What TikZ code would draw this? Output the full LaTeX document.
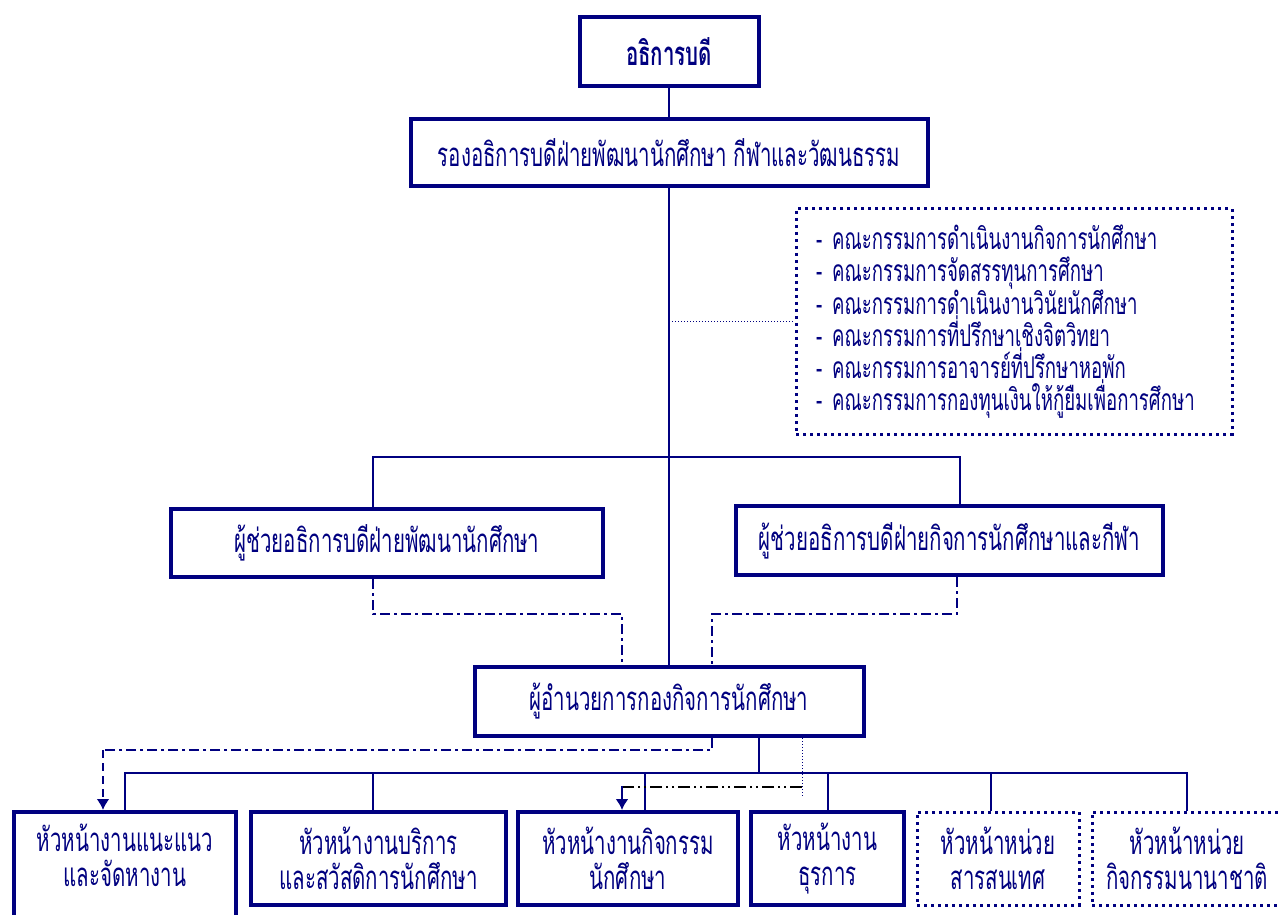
\documentclass[tikz,border=0pt]{standalone}
\usepackage{fontspec}
\newfontfamily\thaifont[Script=Thai,FakeStretch=0.62]{Loma}
\usetikzlibrary{arrows.meta}
\definecolor{navy}{RGB}{0,0,128}

\tikzset{
  box/.style={draw=navy,line width=4pt,fill=white,text=navy,align=center,inner sep=0pt,
    font=\thaifont\fontsize{33}{35}\selectfont},
  dotbox/.style={box,line width=3pt,dash pattern=on 3pt off 4pt},
  link/.style={navy,line width=2pt},
  dashdot/.style={navy,line width=2.5pt,dash pattern=on 10pt off 4pt on 3pt off 4pt},
  dashdotdot/.style={black,line width=1.5pt,dash pattern=on 12pt off 4pt on 2pt off 4pt on 2pt off 4pt},
}

\begin{document}
\begin{tikzpicture}[x=1pt,y=-1pt]
\useasboundingbox (0,0) rectangle (1278,915);

\node[box,minimum width=179pt,minimum height=69pt,font=\thaifont\bfseries\fontsize{33}{35}\selectfont] (rector) at (669,51.5) {อธิการบดี};
\node[box,minimum width=517pt,minimum height=67pt] (vice) at (669,152.5) {รองอธิการบดีฝ่ายพัฒนานักศึกษา กีฬาและวัฒนธรรม};
\node[dotbox,minimum width=436pt,minimum height=225pt,align=left,text width=396pt,
  font=\thaifont\fontsize{30}{32}\selectfont] (comm) at (1014,321.5) {- คณะกรรมการดำเนินงานกิจการนักศึกษา\\- คณะกรรมการจัดสรรทุนการศึกษา\\- คณะกรรมการดำเนินงานวินัยนักศึกษา\\- คณะกรรมการที่ปรึกษาเชิงจิตวิทยา\\- คณะกรรมการอาจารย์ที่ปรึกษาหอพัก\\- คณะกรรมการกองทุนเงินให้กู้ยืมเพื่อการศึกษา};
\node[box,minimum width=432pt,minimum height=68pt] (asst1) at (387,543) {ผู้ช่วยอธิการบดีฝ่ายพัฒนานักศึกษา};
\node[box,minimum width=427pt,minimum height=69pt] (asst2) at (949.5,540.5) {ผู้ช่วยอธิการบดีฝ่ายกิจการนักศึกษาและกีฬา};
\node[box,minimum width=389pt,minimum height=69pt] (dir) at (669,701.5) {ผู้อำนวยการกองกิจการนักศึกษา};

\node[box,anchor=north,minimum width=222pt,inner ysep=12pt,text depth=100pt] (box1) at (125,810) {หัวหน้างานแนะแนว\\และจัดหางาน};
\node[box,minimum width=255pt,minimum height=93pt] (box2) at (378.5,858.5) {หัวหน้างานบริการ\\และสวัสดิการนักศึกษา};
\node[box,minimum width=220pt,minimum height=93pt] (box3) at (628,858.5) {หัวหน้างานกิจกรรม\\นักศึกษา};
\node[box,minimum width=153pt,minimum height=93pt] (box4) at (827.5,858.5) {หัวหน้างาน\\ธุรการ};
\node[dotbox,minimum width=162pt,minimum height=93pt] (box5) at (998,858.5) {หัวหน้าหน่วย\\สารสนเทศ};
\node[dotbox,minimum width=190pt,minimum height=93pt] (box6) at (1187,858.5) {หัวหน้าหน่วย\\กิจกรรมนานาชาติ};

% main line
\draw[link] (rector) -- (vice);
\draw[link] (vice) -- (dir);
\draw[navy,line width=1pt,dotted] (vice.south |- comm.west) -- (comm.west);

% assistants
\coordinate (bL) at (373,457);
\coordinate (bR) at (960,457);
\draw[link] (bL |- asst1.north) -- (bL) -- (bR) -- (bR |- asst2.north);
\draw[dashdot] (asst1.south -| 373,0) -- (373,614) -- (622,614) -- (dir.north -| 622,0);
\draw[dashdot] (asst2.south -| 957,0) -- (957,614) -- (712,614) -- (dir.north -| 712,0);
\draw[dashdot] (dir.south -| 712,0) -- (712,750) -- (103,750);
\draw[navy,line width=2.5pt,dash pattern=on 8pt off 5pt,->,>={Latex[length=11pt,width=13pt]}] (103,750) -- (box1.north -| 103,0);

% bus to the units
\coordinate (uL) at (125,773);
\coordinate (uR) at (1187,773);
\draw[link] (dir.south -| 759,0) -- (759,773);
\draw[link] (uL |- box1.north) -- (uL) -- (uR) -- (box6.north);
\foreach \x/\b in {373/box2,645/box3,828/box4,991/box5}
  \draw[link] (\x,773) -- (\b.north -| \x,0);

\draw[navy,line width=1pt,dotted] (dir.south -| 802,0) -- (802,797);
\draw[dashdotdot] (802,787) -- (622,787);
\draw[navy,line width=2pt,->,>={Latex[length=11pt,width=13pt]}] (622,786) -- (box3.north -| 622,0);
\end{tikzpicture}
\end{document}
